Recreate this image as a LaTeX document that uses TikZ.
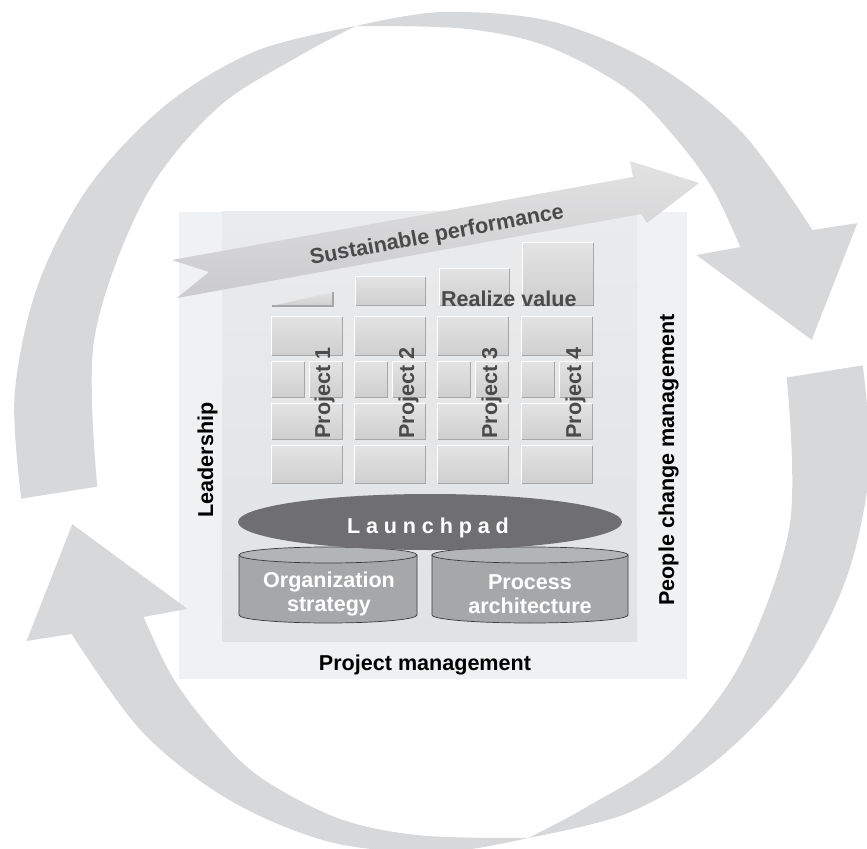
\documentclass[tikz,border=0pt]{standalone}
\usepackage{fontspec}
\setmainfont{Liberation Sans}
\usetikzlibrary{fit}
\definecolor{arcgray}{HTML}{D7D8DA}
\definecolor{frameout}{HTML}{F0F1F2}
\definecolor{frameintop}{HTML}{EAEBEC}
\definecolor{frameinbot}{HTML}{E1E2E3}
\definecolor{boxtop}{HTML}{E3E3E3}
\definecolor{boxbot}{HTML}{CFCFCF}
\definecolor{boxedge}{HTML}{A6A6A6}
\definecolor{txtdark}{HTML}{4A4A4A}
\definecolor{padgray}{HTML}{6F6F71}
\definecolor{cylgray}{HTML}{A6A7A9}
\definecolor{cyltop}{HTML}{B3B4B6}
\definecolor{cyledge}{HTML}{3C3C3C}
\definecolor{bannerlight}{HTML}{E2E2E3}
\definecolor{bannerdark}{HTML}{CBCBCD}
\begin{document}
\begin{tikzpicture}[x=0.03cm, y=-0.03cm,
  font=\fontsize{18.4}{22}\selectfont\bfseries,
  pbox/.style={inner sep=0pt, top color=boxtop, bottom color=boxbot},
  boxline/.style={boxedge, line width=1.1pt},
  hiline/.style={white, line width=0.8pt},
  dark/.style={text=txtdark},
  blk/.style={text=black},
  cyl/.style={fill=cylgray, draw=cyledge, line width=0.6pt}]
\useasboundingbox (0,0) rectangle (867,849);

% frame
\node[fit={(179,212) (687,679)}, inner sep=0pt, fill=frameout] (outer) {};
\node[fit={(222,212) (637,641)}, inner sep=0pt, top color=frameintop, bottom color=frameinbot] (inner) {};

% big circular ribbons
\foreach \rot in {0,180}{
\begin{scope}[shift={(442,432)}, rotate=\rot, yscale=-1]
\fill[arcgray]
  plot[smooth, tension=0.55] coordinates {(189:426) (175:429) (160:430) (145:430) (130:428) (116:424) (102:415)}
  -- plot[smooth, tension=0.55] coordinates {(102:415) (90:420) (75:425) (60:425) (45:424) (28.6:422)}
  -- (26.7:465) -- (14:381) -- (34.8:310) -- (31.8:351)
  -- plot[smooth, tension=0.55] coordinates {(31.8:351) (42:364) (52:376) (62:390) (75:400) (87:404) (102:415)}
  -- plot[smooth, tension=0.55] coordinates {(102:415) (111:402) (125:394) (142:378) (165:360) (189:349)}
  -- cycle;
\end{scope}
}

% banner arrow
\shade[top color=bannerlight, bottom color=bannerdark]
  (172,260) -- (633,177) -- (630,161) -- (699,183) -- (647,223) -- (641,214) -- (177,298) -- (209,272) -- cycle;
\node[dark, rotate=10.5] (sp) at (437,236) {Sustainable performance};

% value bars
\shade[top color=boxtop, bottom color=boxbot] (272,306) -- (333,292) -- (333,306) -- cycle;
\draw[boxline] (272,306) -- (333,306) -- (333,292);
\node[pbox, fit={(356,277) (425,305)}] (v2) {};
\node[pbox, fit={(440,269) (509,305)}] (v3) {};
\node[pbox, fit={(523,243) (593,305)}] (v4) {};
\foreach \n in {v2,v3,v4}{
  \draw[hiline] (\n.south west) -- (\n.north west) -- (\n.north east);
  \draw[boxline] (\n.south west) -- (\n.south east) -- (\n.north east);
}
\node[dark, anchor=base west] (rv) at (437,306) {Realize value};

% project grid
\foreach \c/\xl/\tx in {1/272/330,2/355/414,3/438/497,4/522/581}{
  \pgfmathsetmacro\xr{\xl+70}
  \pgfmathsetmacro\xm{\xl+32}
  \pgfmathsetmacro\xn{\xl+38}
  \node[pbox, fit={(\xl,317) (\xr,355)}] (b\c-a) {};
  \node[pbox, fit={(\xl,362) (\xm,397)}] (b\c-b) {};
  \node[pbox, fit={(\xn,362) (\xr,397)}] (b\c-c) {};
  \node[pbox, fit={(\xl,404) (\xr,439)}] (b\c-d) {};
  \node[pbox, fit={(\xl,446) (\xr,483)}] (b\c-e) {};
  \foreach \r in {a,b,c,d,e}{
    \draw[hiline] (b\c-\r.south west) -- (b\c-\r.north west) -- (b\c-\r.north east);
    \draw[boxline] (b\c-\r.south west) -- (b\c-\r.south east) -- (b\c-\r.north east);
  }
  \node[dark, rotate=90, anchor=base] (p\c) at (\tx,393) {Project \c};
}

% cylinders
\path[cyl] (239,555) -- (239,615) arc[start angle=180, end angle=0, x radius=89, y radius=8] -- (417,555) -- cycle;
\path[cyl, fill=cyltop] (328,555) ellipse [x radius=89, y radius=8];
\path[cyl] (432,555) -- (432,615) arc[start angle=180, end angle=0, x radius=98, y radius=8] -- (628,555) -- cycle;
\path[cyl, fill=cyltop] (530,555) ellipse [x radius=98, y radius=8];
\node[text=white, align=center, font=\fontsize{18.4}{20.5}\selectfont\bfseries] (org) at (329,594) {Organization\\strategy};
\node[text=white, align=center, font=\fontsize{18.4}{20.5}\selectfont\bfseries] (proc) at (530,594) {Process\\architecture};

% launchpad
\fill[padgray] (430,522) ellipse [x radius=192, y radius=28];
\node[text=white, anchor=base] (lp) at (428,533) {L\hspace{5pt}a\hspace{5pt}u\hspace{5pt}n\hspace{5pt}c\hspace{5pt}h\hspace{5pt}p\hspace{5pt}a\hspace{5pt}d};

% side labels
\node[blk, rotate=90, anchor=base] (lead) at (213,460) {Leadership};
\node[blk, rotate=90, anchor=base] (pcm) at (674,460) {People change management};
\node[blk, anchor=base] (pm) at (425,670) {Project management};
\end{tikzpicture}
\end{document}
